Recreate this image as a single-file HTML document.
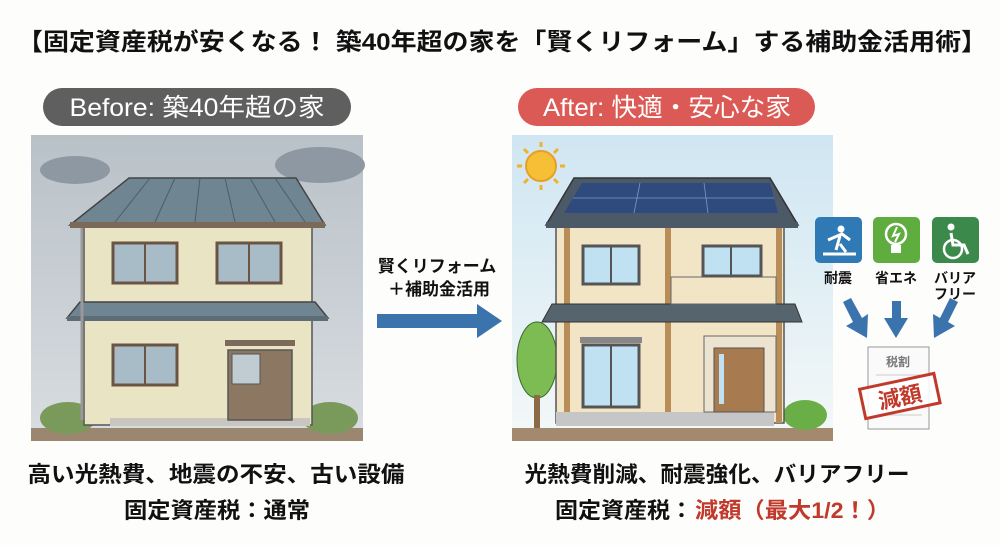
<!DOCTYPE html>
<html><head><meta charset="utf-8"><style>
html,body{margin:0;padding:0;background:#fefefe;}
svg{display:block}
text{font-family:"Liberation Sans","Noto Sans CJK JP",sans-serif;font-weight:bold}
</style></head><body>
<svg width="1000" height="545" viewBox="0 0 1000 545" xmlns="http://www.w3.org/2000/svg">
<rect width="1000" height="545" fill="#fdfdfc"/>
<text x="502" y="50" font-size="24" text-anchor="middle" textLength="970" lengthAdjust="spacingAndGlyphs" fill="#111">【固定資産税が安くなる！ 築40年超の家を「賢くリフォーム」する補助金活用術】</text>

<rect x="43" y="88" width="308" height="38" rx="19" fill="#5f5f5f"/>
<text x="197" y="116" font-size="25" text-anchor="middle" fill="#fff" style="font-weight:normal" textLength="255" lengthAdjust="spacingAndGlyphs">Before: 築40年超の家</text>

<defs>
<linearGradient id="gs" x1="0" y1="0" x2="0" y2="1"><stop offset="0" stop-color="#b9c1c8"/><stop offset="1" stop-color="#d8dde0"/></linearGradient>
<linearGradient id="bs" x1="0" y1="0" x2="0" y2="1"><stop offset="0" stop-color="#cfe6f2"/><stop offset="1" stop-color="#f4f8f8"/></linearGradient>
</defs>
<rect x="31" y="135" width="332" height="306" fill="url(#gs)"/>
<ellipse cx="75" cy="170" rx="35" ry="14" fill="#8e98a2"/>
<ellipse cx="320" cy="165" rx="45" ry="18" fill="#8e98a2"/>
<rect x="31" y="428" width="332" height="13" fill="#9b876f"/>
<ellipse cx="68" cy="418" rx="28" ry="16" fill="#7a9a5c"/>
<ellipse cx="330" cy="418" rx="28" ry="16" fill="#7a9a5c"/>
<rect x="84" y="225" width="228" height="200" fill="#e9e4c4" stroke="#555" stroke-width="1.5"/>
<rect x="110" y="418" width="200" height="8" fill="#c8c6be"/>
<polygon points="129,178 296,178 325,225 70,225" fill="#6f8591" stroke="#444" stroke-width="1.5"/>
<rect x="70" y="222" width="255" height="6" fill="#7b6a5a"/>
<g stroke="#4c5e68" stroke-width="1">
<line x1="150" y1="178" x2="115" y2="222"/><line x1="175" y1="178" x2="155" y2="222"/><line x1="200" y1="178" x2="195" y2="222"/><line x1="225" y1="178" x2="235" y2="222"/><line x1="250" y1="178" x2="275" y2="222"/><line x1="275" y1="178" x2="305" y2="222"/>
</g>
<polygon points="80,302 315,302 328,318 67,318" fill="#6f8591" stroke="#444" stroke-width="1.5"/>
<rect x="67" y="316" width="261" height="5" fill="#5d6d75"/>
<g fill="#a8bcc8" stroke="#6b5443" stroke-width="3">
<rect x="113" y="243" width="64" height="40"/><rect x="217" y="243" width="64" height="40"/>
<rect x="113" y="345" width="64" height="40"/>
</g>
<g stroke="#6b5443" stroke-width="2"><line x1="145" y1="243" x2="145" y2="283"/><line x1="249" y1="243" x2="249" y2="283"/><line x1="145" y1="345" x2="145" y2="385"/></g>
<rect x="228" y="350" width="64" height="70" fill="#8c7862" stroke="#555" stroke-width="1.5"/>
<rect x="232" y="354" width="28" height="30" fill="#c0ccd2" stroke="#555"/>
<rect x="225" y="340" width="70" height="6" fill="#7b6a5a"/>
<line x1="82" y1="228" x2="82" y2="420" stroke="#999" stroke-width="3"/>

<text x="437" y="272" font-size="17" text-anchor="middle" fill="#111">賢くリフォーム</text>
<text x="439" y="295" font-size="17" text-anchor="middle" fill="#111">＋補助金活用</text>
<rect x="377" y="314" width="103" height="14" fill="#3b73ad"/>
<polygon points="477,304 502,321 477,338" fill="#3b73ad"/>

<rect x="518" y="88" width="297" height="38" rx="19" fill="#dc5a55"/>
<text x="667" y="116" font-size="25" text-anchor="middle" fill="#fff" style="font-weight:normal" textLength="248" lengthAdjust="spacingAndGlyphs">After: 快適・安心な家</text>

<rect x="512" y="135" width="321" height="306" fill="url(#bs)"/>
<circle cx="541" cy="166" r="15" fill="#f5c035" stroke="#e6a02a" stroke-width="2"/>
<g stroke="#f0b030" stroke-width="3"><line x1="541" y1="142" x2="541" y2="147"/><line x1="541" y1="185" x2="541" y2="190"/><line x1="517" y1="166" x2="522" y2="166"/><line x1="560" y1="166" x2="565" y2="166"/><line x1="524" y1="149" x2="528" y2="153"/><line x1="554" y1="179" x2="558" y2="183"/><line x1="524" y1="183" x2="528" y2="179"/><line x1="554" y1="153" x2="558" y2="149"/></g>
<rect x="512" y="428" width="321" height="13" fill="#a38a6f"/>
<ellipse cx="537" cy="360" rx="20" ry="38" fill="#7cbc52" stroke="#3d6a2a"/>
<rect x="534" y="395" width="6" height="33" fill="#8b6a47"/>
<ellipse cx="805" cy="415" rx="22" ry="15" fill="#6aae48"/>
<rect x="556" y="225" width="228" height="198" fill="#f2e5c6" stroke="#555" stroke-width="1.5"/>
<rect x="564" y="225" width="6" height="198" fill="#b98d58"/>
<rect x="665" y="225" width="6" height="198" fill="#b98d58"/>
<rect x="776" y="225" width="6" height="198" fill="#b98d58"/>
<rect x="556" y="412" width="218" height="14" fill="#c6c6c6"/>
<polygon points="574,178 770,178 798,225 546,225" fill="#4b5a66" stroke="#333" stroke-width="1.5"/>
<polygon points="582,183 770,183 778,213 564,213" fill="#2f4a7c"/>
<g stroke="#7e9ac9" stroke-width="0.8"><line x1="640" y1="183" x2="634" y2="213"/><line x1="704" y1="183" x2="708" y2="213"/><line x1="573" y1="198" x2="774" y2="198"/></g>
<rect x="546" y="222" width="252" height="6" fill="#4b5a66"/>
<polygon points="552,304 795,304 802,322 542,322" fill="#56646e" stroke="#333"/>
<rect x="671" y="277" width="105" height="27" fill="#f2e5c6" stroke="#666"/>
<g fill="#bfe1f2" stroke="#555" stroke-width="3">
<rect x="583" y="246" width="56" height="38"/><rect x="703" y="246" width="58" height="30"/>
<rect x="583" y="345" width="56" height="62"/>
</g>
<g stroke="#555" stroke-width="2"><line x1="611" y1="246" x2="611" y2="284"/><line x1="731" y1="246" x2="731" y2="276"/><line x1="611" y1="345" x2="611" y2="407"/></g>
<rect x="580" y="337" width="62" height="6" fill="#888"/>
<rect x="704" y="336" width="72" height="76" fill="#ece4d0" stroke="#666"/>
<rect x="714" y="348" width="50" height="64" fill="#a87a4f" stroke="#555"/>
<rect x="719" y="354" width="5" height="50" fill="#bfe1f2"/>

<rect x="815" y="217" width="47" height="46" rx="5" fill="#2f79b5"/>
<circle cx="841" cy="229" r="3.5" fill="#fff"/>
<path d="M828 240 L842 234 L850 240 M840 236 L836 250 M840 244 L846 252 M823 254 L856 254" stroke="#fff" stroke-width="3" fill="none"/>
<rect x="873" y="217" width="47" height="46" rx="5" fill="#5fad3e"/>
<circle cx="896" cy="234" r="10" fill="none" stroke="#fff" stroke-width="2.5"/>
<rect x="891" y="245" width="10" height="8" fill="#fff"/>
<path d="M897 227 L893 236 L899 234 L895 242" stroke="#fff" stroke-width="2" fill="none"/>
<rect x="932" y="217" width="47" height="46" rx="5" fill="#3b8a4b"/>
<circle cx="951" cy="227" r="3.5" fill="#fff"/>
<circle cx="953" cy="249" r="9" fill="none" stroke="#fff" stroke-width="2.5"/>
<path d="M951 233 L953 245 L964 245 L968 254" stroke="#fff" stroke-width="3" fill="none"/>
<text x="838" y="283" font-size="14" text-anchor="middle" fill="#111">耐震</text>
<text x="896" y="283" font-size="14" text-anchor="middle" fill="#111">省エネ</text>
<text x="955" y="283" font-size="14" text-anchor="middle" fill="#111">バリア</text>
<text x="955" y="299" font-size="14" text-anchor="middle" fill="#111">フリー</text>
<g fill="#3b73ad">
<polygon points="843,302 851,298 862,318 868,314 867,338 846,326 853,322"/>
<polygon points="892,301 901,301 901,318 908,318 896,338 884,318 892,318"/>
<polygon points="950,298 958,302 948,322 955,326 934,338 933,314 940,318"/>
</g>
<rect x="868" y="347" width="61" height="82" fill="#fafafa" stroke="#999"/>
<text x="898" y="366" font-size="12" text-anchor="middle" fill="#777">税割</text>
<g stroke="#ccc"><line x1="876" y1="375" x2="922" y2="375"/><line x1="876" y1="385" x2="922" y2="385"/><line x1="876" y1="405" x2="922" y2="405"/><line x1="876" y1="415" x2="922" y2="415"/></g>
<g transform="rotate(-12 900 397)">
<rect x="862" y="381" width="76" height="30" fill="#fff" fill-opacity="0.85" stroke="#c0392b" stroke-width="3"/>
<text x="900" y="405" font-size="22" text-anchor="middle" fill="#c0392b">減額</text>
</g>

<text x="216" y="482" font-size="22" text-anchor="middle" textLength="377" lengthAdjust="spacingAndGlyphs" fill="#111">高い光熱費、地震の不安、古い設備</text>
<text x="217" y="518" font-size="22" text-anchor="middle" textLength="186" lengthAdjust="spacingAndGlyphs" fill="#111">固定資産税：通常</text>
<text x="717" y="482" font-size="22" text-anchor="middle" textLength="385" lengthAdjust="spacingAndGlyphs" fill="#111">光熱費削減、耐震強化、バリアフリー</text>
<text x="555" y="518" font-size="22" textLength="138" lengthAdjust="spacingAndGlyphs" fill="#111">固定資産税：</text>
<text x="695" y="518" font-size="22" textLength="195" lengthAdjust="spacingAndGlyphs" fill="#c0392b">減額（最大1/2！）</text>
</svg>
</body></html>
